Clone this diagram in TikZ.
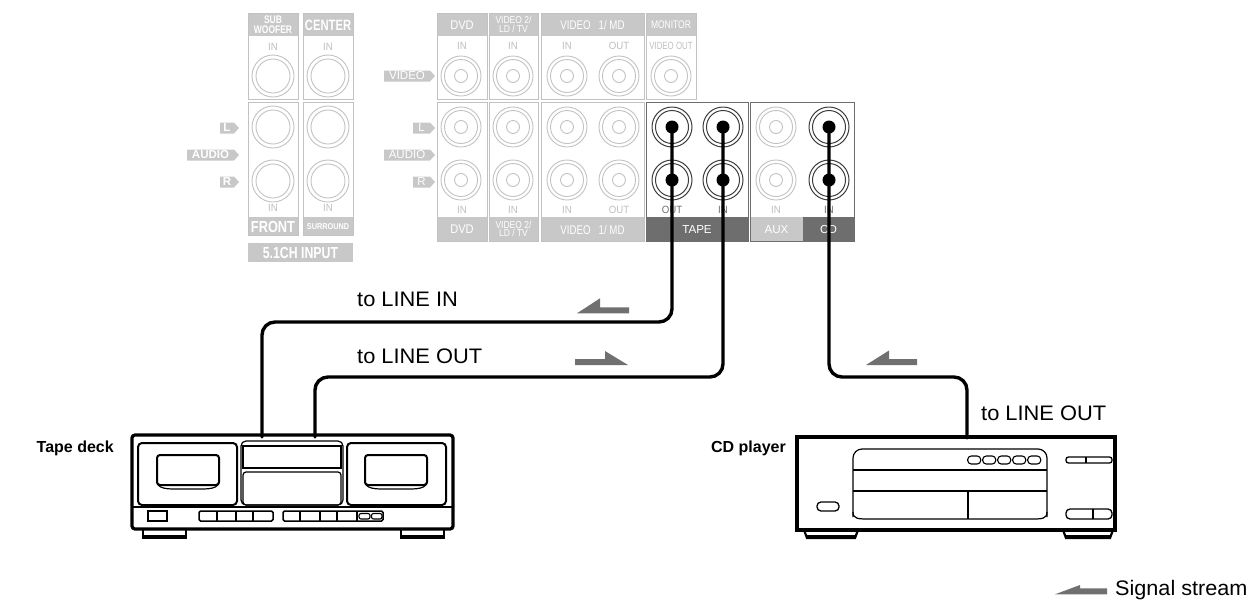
\documentclass[tikz,border=0pt]{standalone}
\usepackage{fontspec}
\setmainfont{Liberation Sans}
\usetikzlibrary{calc}
\definecolor{lg}{HTML}{C8C8C8}
\definecolor{lgl}{HTML}{C2C2C2}
\definecolor{lgt}{HTML}{BEBEBE}
\definecolor{dg}{HTML}{6E6E6E}
\definecolor{dk}{HTML}{3C3C3C}
\definecolor{arr}{HTML}{707070}
\newcommand{\nrw}[2][0.8]{\scalebox{#1}[1]{#2}}
\newcommand{\tagar}[5][]{%
  \fill[lg] (#2,#4-5.5) -- (#3-5,#4-5.5) -- (#3,#4) -- (#3-5,#4+5.5) -- (#2,#4+5.5) -- cycle;
  \node[tagtxt,font=\fontsize{11.5}{11.5}\selectfont#1] at ({(#2+#3-5)/2},#4) {#5};}
\newcommand{\jacktwo}[2]{\draw[lgl,line width=0.9] (#1,#2) circle (21pt) (#1,#2) circle (17pt);}
\newcommand{\jackthree}[2]{\draw[lgl,line width=0.9] (#1,#2) circle (20pt) (#1,#2) circle (16.5pt) (#1,#2) circle (6.5pt);}
\newcommand{\jackdark}[2]{\draw[dk,line width=1] (#1,#2) circle (20pt) (#1,#2) circle (16.5pt);}
\begin{document}
\begin{tikzpicture}[x=1pt,y=-1pt,
  boxl/.style={draw=lgl,line width=0.9},
  boxd/.style={draw=dg,line width=1},
  hdrtxt/.style={text=white,inner sep=0,align=center},
  lbl/.style={text=lgt,inner sep=0,font=\fontsize{10.5}{10.5}\selectfont},
  lbld/.style={text=dg,inner sep=0,font=\fontsize{10.5}{10.5}\selectfont},
  tagtxt/.style={text=white,inner sep=0},
  cable/.style={line width=3.4,rounded corners=13,line cap=round},
  big/.style={inner sep=0,font=\fontsize{21}{25}\selectfont},
  bigb/.style={inner sep=0,font=\fontsize{16}{19}\selectfont\bfseries},
  thk/.style={line width=3.2},
  med/.style={line width=2},
  thn/.style={line width=1.2},
  sig/.style={fill=arr}]
\useasboundingbox (0,0) rectangle (1250,603);

% ---------- 5.1CH panel ----------
\fill[lg] (248,13) rectangle (298,36);
\fill[lg] (303,13) rectangle (353,36);
\draw[boxl] (248,13) rectangle (298,99);
\draw[boxl] (303,13) rectangle (353,99);
\fill[lg] (248,217) rectangle (298,235);
\fill[lg] (303,217) rectangle (353,235);
\draw[boxl] (248,102) rectangle (298,235);
\draw[boxl] (303,102) rectangle (353,235);
\fill[lg] (248,243) rectangle (353,262);
\node[hdrtxt,font=\fontsize{11}{9.5}\selectfont\bfseries] (hsub) at (273,24.5) {\nrw[0.77]{SUB}\\\nrw[0.77]{WOOFER}};
\node[hdrtxt,font=\fontsize{15}{15}\selectfont\bfseries] (hcen) at (328,25) {\nrw[0.75]{CENTER}};
\node[hdrtxt,font=\fontsize{16}{16}\selectfont\bfseries] (hfr) at (273,226.5) {\nrw[0.8]{FRONT}};
\node[hdrtxt,font=\fontsize{8.5}{8.5}\selectfont\bfseries] (hsur) at (328,226.5) {\nrw[0.86]{SURROUND}};
\node[hdrtxt,font=\fontsize{16}{16}\selectfont\bfseries] (h51) at (300.5,253) {\nrw[0.77]{5.1CH INPUT}};
\node[lbl] at (273,47) {\nrw[0.92]{IN}};
\node[lbl] at (328,47) {\nrw[0.92]{IN}};
\node[lbl] at (273,208) {\nrw[0.92]{IN}};
\node[lbl] at (328,208) {\nrw[0.92]{IN}};
\jacktwo{273}{76}\jacktwo{328}{76}
\jacktwo{273}{127}\jacktwo{328}{127}
\jacktwo{273}{181}\jacktwo{328}{181}
\tagar[\bfseries]{220}{239}{128}{L}
\tagar[\bfseries]{187}{239}{155}{AUDIO}
\tagar[\bfseries]{220}{239}{182}{R}

% ---------- main panel ----------
\fill[lg] (437,13) rectangle (487,36);
\fill[lg] (489,13) rectangle (538,36);
\fill[lg] (541,13) rectangle (644,36);
\fill[lg] (646,13) rectangle (696,36);
\draw[boxl] (437,13) rectangle (487,99);
\draw[boxl] (489,13) rectangle (538,99);
\draw[boxl] (541,13) rectangle (644,99);
\draw[boxl] (646,13) rectangle (696,99);
\fill[lg] (437,217) rectangle (487,241);
\fill[lg] (489,217) rectangle (538,241);
\fill[lg] (541,217) rectangle (644,241);
\draw[boxl] (437,102) rectangle (487,241);
\draw[boxl] (489,102) rectangle (538,241);
\draw[boxl] (541,102) rectangle (644,241);
\fill[dg] (646,217) rectangle (748,241);
\draw[boxd] (646,102) rectangle (748,241);
\fill[lg] (750,217) rectangle (803,241);
\fill[dg] (803,217) rectangle (854,241);
\draw[boxd] (750,102) rectangle (854,241);

\node[hdrtxt,font=\fontsize{12.6}{12.6}\selectfont] (hdvd) at (462,25) {\nrw[0.88]{DVD}};
\node[hdrtxt,font=\fontsize{10}{8.5}\selectfont] (hv2) at (513.5,24.5) {\nrw[0.85]{VIDEO 2/}\\\nrw[0.85]{LD / TV}};
\node[hdrtxt,font=\fontsize{12.6}{12.6}\selectfont] (hv1) at (592.5,25) {\nrw[0.77]{VIDEO\ \ \ 1/ MD}};
\node[hdrtxt,font=\fontsize{11}{11}\selectfont] (hmon) at (671,25) {\nrw[0.77]{MONITOR}};
\node[hdrtxt,font=\fontsize{12.6}{12.6}\selectfont] (bdvd) at (462,229.5) {\nrw[0.88]{DVD}};
\node[hdrtxt,font=\fontsize{10}{8.5}\selectfont] (bv2) at (513.5,229) {\nrw[0.85]{VIDEO 2/}\\\nrw[0.85]{LD / TV}};
\node[hdrtxt,font=\fontsize{12.6}{12.6}\selectfont] (bv1) at (592.5,229.5) {\nrw[0.77]{VIDEO\ \ \ 1/ MD}};
\node[hdrtxt,font=\fontsize{11.6}{11.6}\selectfont] (btape) at (697,229.5) {TAPE};
\node[hdrtxt,font=\fontsize{11.6}{11.6}\selectfont] (baux) at (776.5,229.5) {AUX};
\node[hdrtxt,font=\fontsize{11.6}{11.6}\selectfont] (bcd) at (828.5,229.5) {CD};

\node[lbl] at (462,46) {\nrw[0.92]{IN}};
\node[lbl] at (513,46) {\nrw[0.92]{IN}};
\node[lbl] at (567,46) {\nrw[0.92]{IN}};
\node[lbl] at (619,46) {\nrw[0.92]{OUT}};
\node[lbl] at (671,46) {\nrw[0.75]{VIDEO OUT}};
\node[lbl] at (462,210) {\nrw[0.92]{IN}};
\node[lbl] at (513,210) {\nrw[0.92]{IN}};
\node[lbl] at (567,210) {\nrw[0.92]{IN}};
\node[lbl] at (619,210) {\nrw[0.92]{OUT}};
\node[lbld] at (672,210) {\nrw[0.92]{OUT}};
\node[lbld] at (723,210) {\nrw[0.92]{IN}};
\node[lbl] at (776,210) {\nrw[0.92]{IN}};
\node[lbld] at (829,210) {\nrw[0.92]{IN}};

\foreach \x in {461,513,567,619,671} {\jackthree{\x}{76}}
\foreach \x in {461,513,567,619,776} {\jackthree{\x}{127}\jackthree{\x}{180}}
\foreach \x in {672,723,829} {\jackdark{\x}{127}\jackdark{\x}{180}}

\tagar{384}{435}{76}{VIDEO}
\tagar{413}{435}{128}{L}
\tagar{384}{435}{155}{AUDIO}
\tagar{413}{435}{182}{R}

% ---------- jack coordinates ----------
\coordinate (jTO) at (672,127);  \coordinate (jTOb) at (672,180);
\coordinate (jTI) at (723,127);  \coordinate (jTIb) at (723,180);
\coordinate (jCD) at (829,127);  \coordinate (jCDb) at (829,180);
\coordinate (tdA) at (262,437);  \coordinate (tdB) at (315,437);
\coordinate (cdA) at (967,438);
\coordinate (r1) at (0,322);     \coordinate (r2) at (0,377);

% ---------- cables ----------
\draw[cable] (jTO) |- (tdA |- r1) -- (tdA);
\draw[cable] (jTI) |- (tdB |- r2) -- (tdB);
\draw[cable] (jCD) |- (cdA |- r2) -- (cdA);
\foreach \p in {jTO,jTOb,jTI,jTIb,jCD,jCDb} {\fill (\p) circle (6.5pt);}

% ---------- signal arrows ----------
\fill[sig] (577,313.3) -- (600,298.3) -- (600,307.3) -- (629,307.3) -- (629,313.3) -- cycle;
\fill[sig] (575,359) -- (605,359) -- (605,351) -- (628,365) -- (575,365) -- cycle;
\fill[sig] (866,365) -- (889,350.5) -- (889,359) -- (917,359) -- (917,365) -- cycle;
\fill[sig] (1055,594.3) -- (1080,585) -- (1080,588.3) -- (1107,588.3) -- (1107,594.3) -- cycle;

% ---------- labels ----------
\node[big,anchor=base west] (l1) at (357,306.7) {\nrw[1.04]{to LINE IN}};
\node[big,anchor=base west] (l2) at (357,363.3) {\nrw[1.04]{to LINE OUT}};
\node[big,anchor=base west] (l3) at (981,420) {\nrw[1.04]{to LINE OUT}};
\node[big,anchor=base west] (l4) at (1115,595) {\nrw[1.03]{Signal stream}};
\node[bigb,anchor=base east] (ltd) at (114,452.3) {Tape deck};
\node[bigb,anchor=base east] (lcd) at (786,452.3) {CD player};

% ---------- tape deck ----------
\draw[thk,rounded corners=3] (132,435) rectangle (453,529);
\draw[med] (132,507) -- (453,507);
\draw[med,rounded corners=4] (138,443) rectangle (237,505);
\draw[med,rounded corners=3] (157,455) rectangle (219,485);
\draw[thn] (157,483) .. controls (160,490) and (170,489) .. (188,489) .. controls (206,489) and (216,490) .. (219,483);
\draw[thn,rounded corners=5] (241,441) rectangle (343,505);
\draw[med] (243,446) rectangle (341,468);
\draw[thn,rounded corners=3] (243,472) rectangle (341,505);
\draw[med,rounded corners=4] (347,443) rectangle (446,505);
\draw[med,rounded corners=3] (365,455) rectangle (427,485);
\draw[thn] (365,483) .. controls (368,490) and (378,489) .. (396,489) .. controls (414,489) and (424,490) .. (427,483);
\draw[line width=1.5] (148,511) rectangle (167,521);
\draw[line width=1.5,rounded corners=1.5] (199,511) rectangle (273,521);
\foreach \x in {217,236,253} {\draw[line width=1.3] (\x,511) -- (\x,521);}
\draw[line width=1.5,rounded corners=1.5] (283,511) rectangle (383,521);
\foreach \x in {300,320,337,357} {\draw[line width=1.3] (\x,511) -- (\x,521);}
\draw[line width=1.1,rounded corners=2] (359,513.5) rectangle (370,519);
\draw[line width=1.1,rounded corners=2] (371.5,513.5) rectangle (382,519);
\draw[line width=2.2] (143,530) -- (143,538) -- (186,538) -- (186,530);
\draw[line width=4] (143,537) -- (186,537);
\draw[line width=2.2] (401,530) -- (401,538) -- (444,538) -- (444,530);
\draw[line width=4] (401,537) -- (444,537);

% ---------- CD player ----------
\draw[thk] (797,437) rectangle (1115,530);
\draw[thn,rounded corners=9] (853,517) -- (853,449) -- (1047,449) -- (1047,517);
\draw[thn] (853,512) .. controls (853,519) and (858,519) .. (870,519) -- (1030,519) .. controls (1042,519) and (1047,519) .. (1047,512);
\draw[line width=2.5] (853,470) -- (1047,470);
\draw[line width=2.5] (853,491) -- (1047,491);
\draw[thn] (968,491) -- (968,519);
\foreach \x in {974.2,989.2,1004.2,1019.2,1034.2} {\draw[line width=1.1,rounded corners=3.5] (\x-6.5,456) rectangle (\x+6.5,464);}
\draw[line width=1.3,rounded corners=2.5] (1066,457) rectangle (1112,463);
\draw[line width=1.3] (1086,457) -- (1086,463);
\draw[line width=1.3,rounded corners=4] (1066,509) rectangle (1112,519);
\draw[line width=1.3] (1093,509) -- (1093,519);
\draw[line width=1.3,rounded corners=4] (817,502) rectangle (839,511);
\draw[line width=2.2] (804,530) -- (807,538) -- (855,538) -- (858,530);
\draw[line width=4] (806,537) -- (856,537);
\draw[line width=2.2] (1063,530) -- (1066,538) -- (1110,538) -- (1113,530);
\draw[line width=4] (1065,537) -- (1111,537);
\end{tikzpicture}
\end{document}
